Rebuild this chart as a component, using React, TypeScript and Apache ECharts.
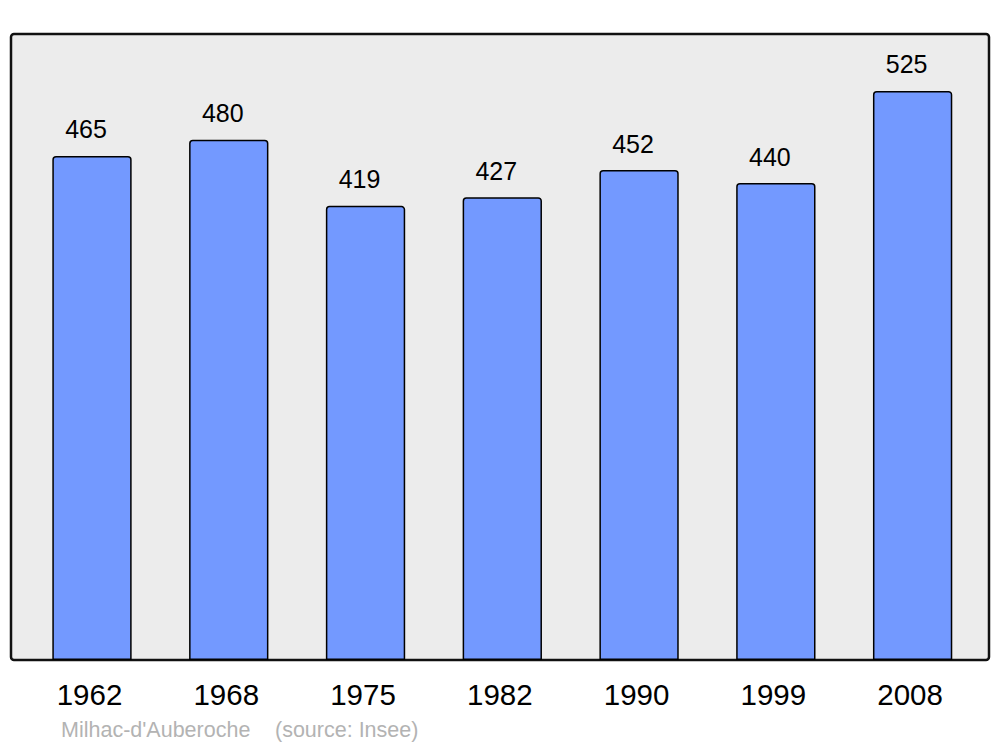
import React, { useEffect, useRef } from "react";
import * as echarts from "echarts";

const years = ["1962", "1968", "1975", "1982", "1990", "1999", "2008"];
const population = [465, 480, 419, 427, 452, 440, 525];
const commune = "Milhac-d'Auberoche";
const sourceText = "(source: Insee)";

export default function App() {
  const ref = useRef<HTMLDivElement>(null);
  useEffect(() => {
    document.body.style.margin = "0";
    const chart = echarts.init(ref.current!, null, { renderer: "svg" });
    chart.setOption({
      animation: false,
      backgroundColor: "#ffffff",
      textStyle: { fontFamily: "Liberation Sans, Arial, sans-serif" },
      grid: { left: 23.6, right: 19, top: 34, bottom: 87 },
      graphic: [
        {
          type: "rect",
          z: -10,
          shape: { x: 11, y: 34, width: 978, height: 626, r: 3 },
          style: { fill: "#ececec", stroke: "#111111", lineWidth: 2.5 },
        },
        {
          type: "text",
          x: 61,
          y: 730,
          style: {
            text: commune,
            fill: "#b3b3b3",
            font: "21.5px 'Liberation Sans', Arial, sans-serif",
            verticalAlign: "middle",
          },
        },
        {
          type: "text",
          x: 275,
          y: 730,
          style: {
            text: sourceText,
            fill: "#b3b3b3",
            font: "21.5px 'Liberation Sans', Arial, sans-serif",
            verticalAlign: "middle",
          },
        },
      ],
      xAxis: {
        type: "category",
        data: years,
        axisLine: { show: false },
        axisTick: { show: false },
        axisLabel: {
          color: "#000000",
          fontSize: 29.5,
          margin: 19,
          padding: [0, 5, 0, 0],
          fontFamily: "Liberation Sans, Arial, sans-serif",
        },
      },
      yAxis: {
        type: "value",
        min: 0,
        max: 577.5,
        show: false,
        splitLine: { show: false },
      },
      series: [
        {
          type: "bar",
          data: population,
          barWidth: "58%",
          itemStyle: {
            color: "#7399ff",
            borderColor: "#000000",
            borderWidth: 1.5,
            borderRadius: [3, 3, 0, 0],
          },
          label: {
            show: true,
            position: "top",
            distance: 14,
            offset: [-6, 0],
            color: "#000000",
            fontSize: 25,
            fontFamily: "Liberation Sans, Arial, sans-serif",
          },
        },
      ],
    });
    return () => chart.dispose();
  }, []);
  return (
    <div
      ref={ref}
      style={{ position: "absolute", left: 0, top: 0, width: 1000, height: 747 }}
    />
  );
}
